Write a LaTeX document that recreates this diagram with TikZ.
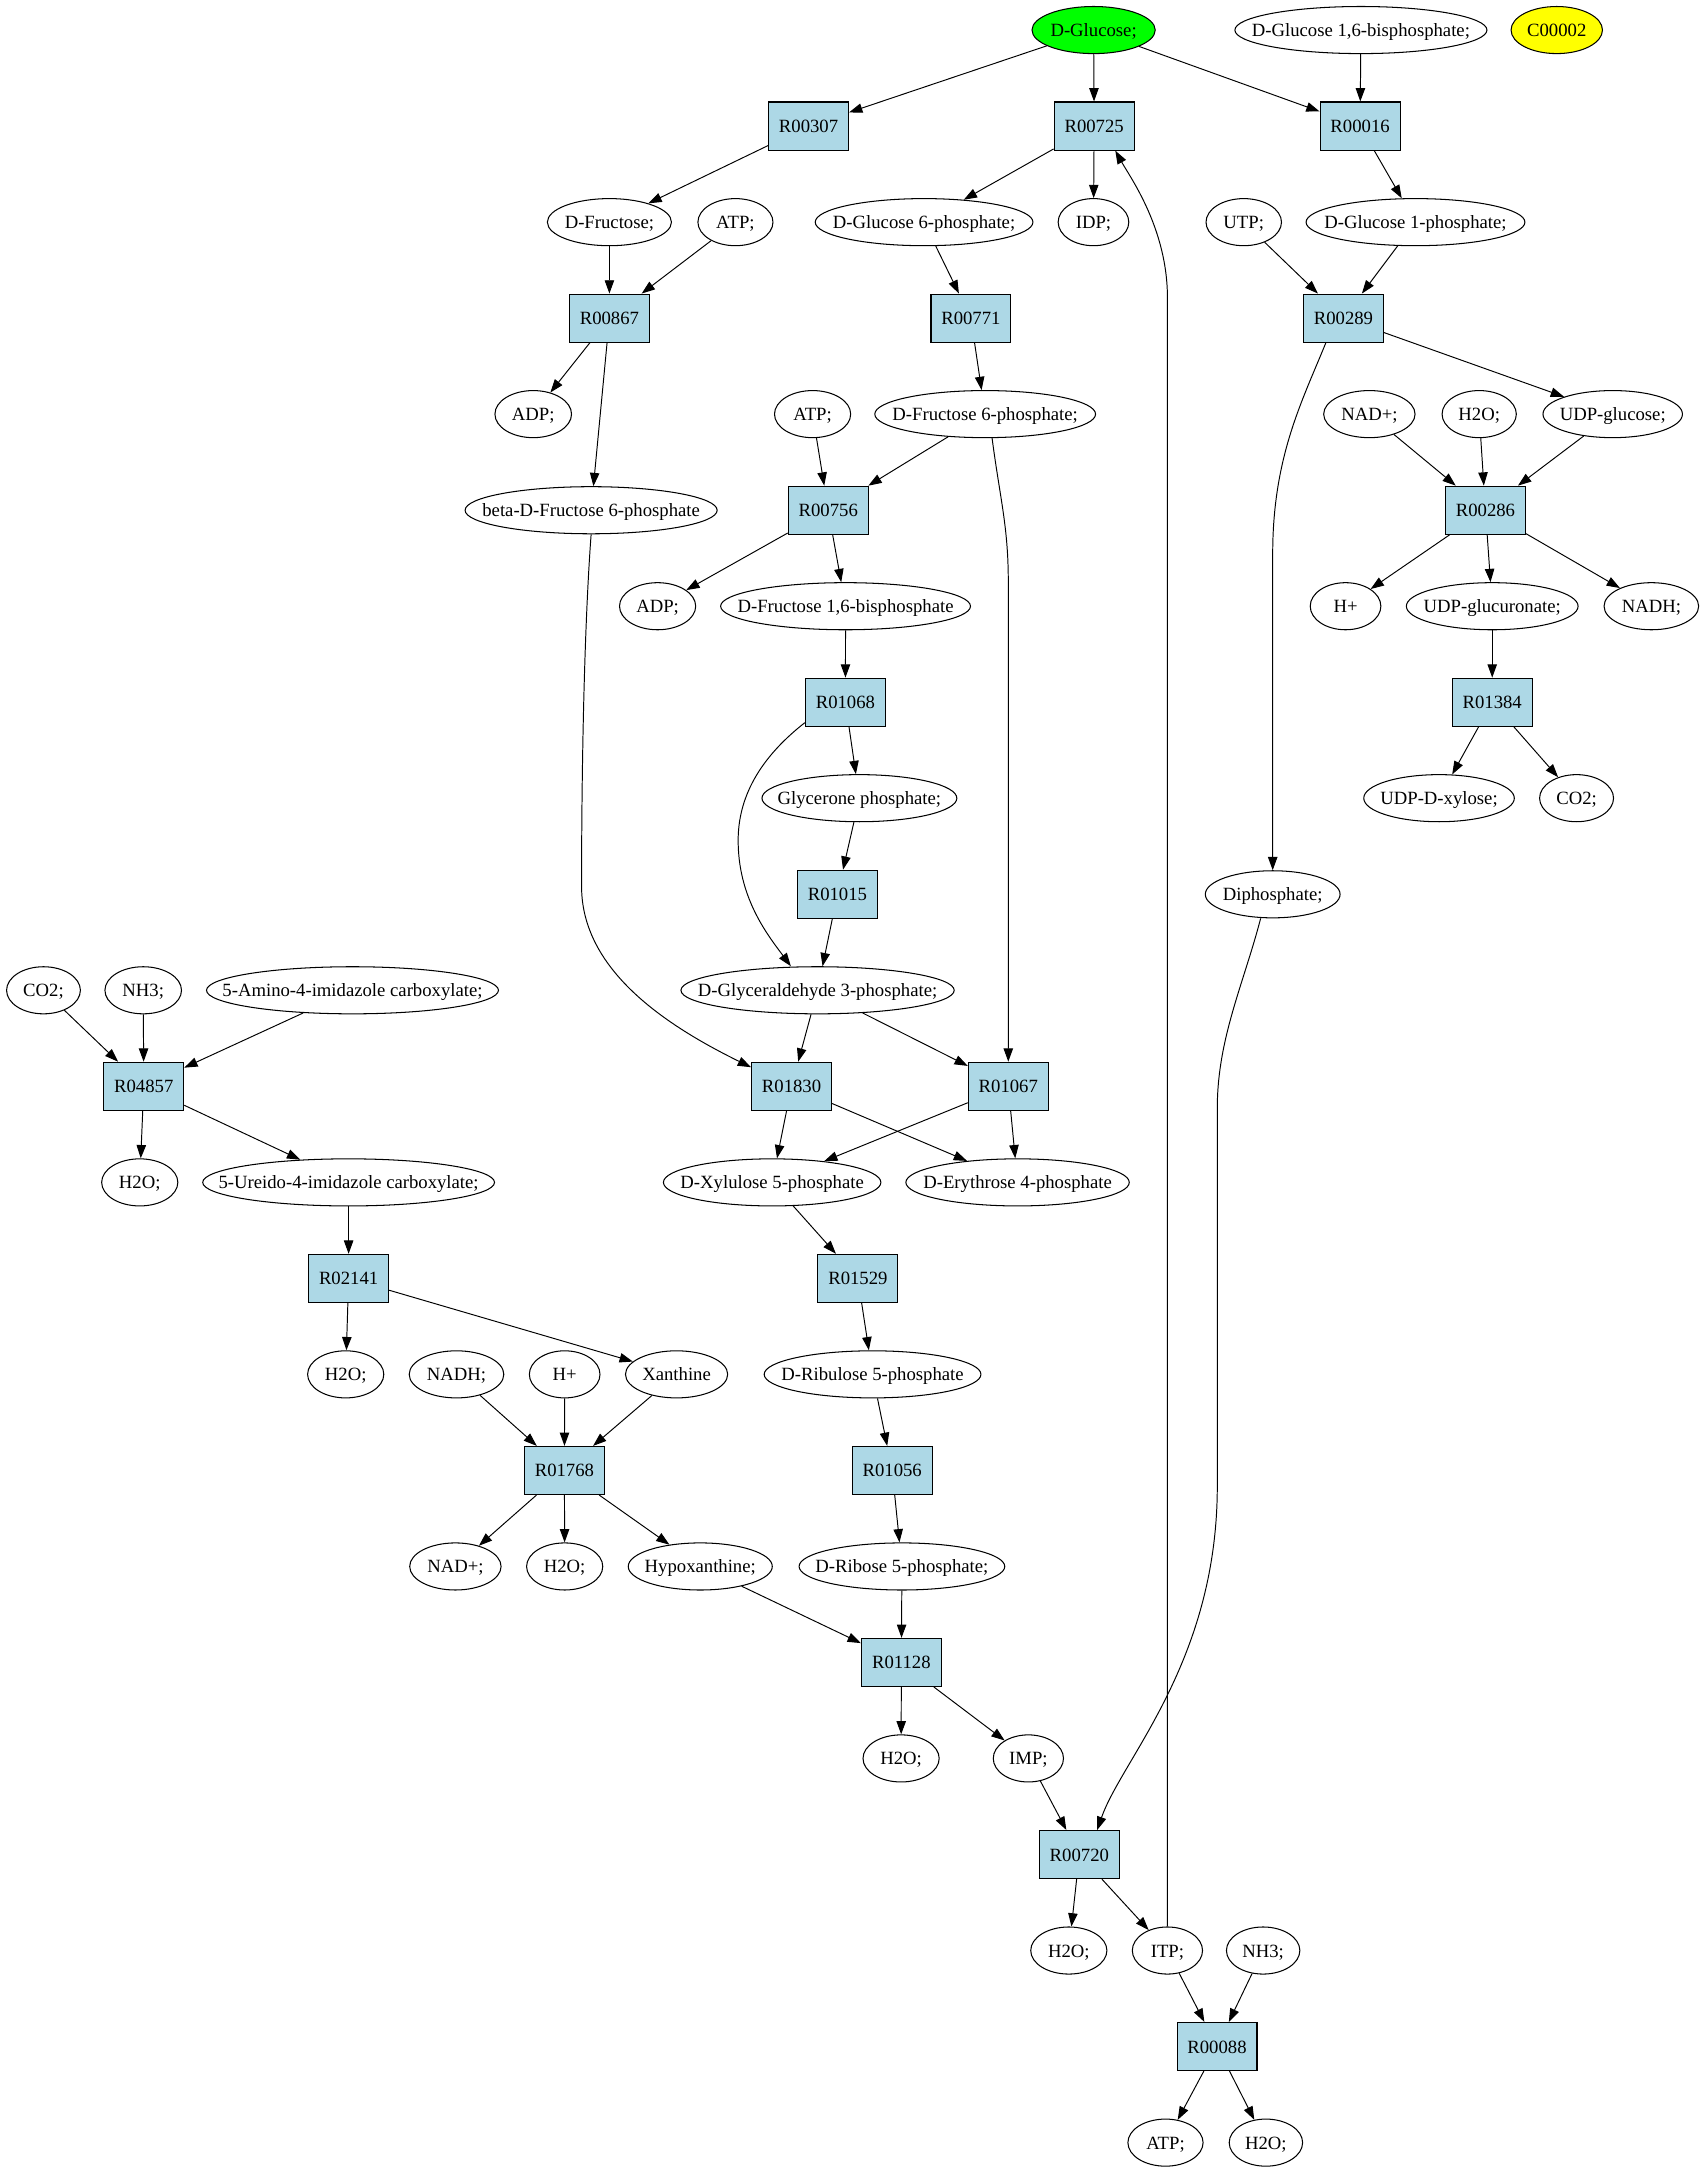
\documentclass[tikz,border=0pt]{standalone}
\usepackage{fontspec}
\setmainfont{Liberation Serif}
\usetikzlibrary{shapes.geometric,arrows.meta}
\definecolor{lb}{RGB}{173,216,230}
\definecolor{gr}{RGB}{0,255,0}
\definecolor{yl}{RGB}{255,255,0}
\newcommand{\nt}[1]{\makebox[0pt]{\rule{0pt}{9.4pt}\smash{#1}}}
\begin{document}
\begin{tikzpicture}[x=1pt,y=-1pt,
  font=\fontsize{13.5}{16}\selectfont,
  rx/.style={rectangle,draw,line width=0.8pt,fill=lb,minimum width=57.7pt,minimum height=34.7pt,inner sep=0pt},
  cp/.style={ellipse,draw,line width=0.75pt,minimum height=34pt,inner sep=0pt,minimum width=#1},
  conn/.style={-{Triangle[length=9.6pt,width=6.8pt]},line width=0.7pt}]
\useasboundingbox (0,0) rectangle (1230.3,1567.5);
% rank 0
\node[cp=89pt,fill=gr] (glc) at (789.6,21.7) {\nt{D-Glucose;}};
\node[cp=182pt] (g16bp) at (982.6,21.7) {\nt{D-Glucose 1,6-bisphosphate;}};
\node[cp=66pt,fill=yl] (c00002) at (1124,21.7) {\nt{C00002}};
% rank 1
\node[rx] (r00307) at (583.8,91.0) {\nt{R00307}};
\node[rx] (r00725) at (790,91.0) {\nt{R00725}};
\node[rx] (r00016) at (982,91.0) {\nt{R00016}};
% rank 2
\node[cp=89.6pt] (fru) at (440,160.4) {\nt{D-Fructose;}};
\node[cp=54.2pt] (atp1) at (531,160.4) {\nt{ATP;}};
\node[cp=157.2pt] (g6p) at (667.2,160.4) {\nt{D-Glucose 6-phosphate;}};
\node[cp=51pt] (idp) at (789.5,160.4) {\nt{IDP;}};
\node[cp=54.5pt] (utp) at (898,160.4) {\nt{UTP;}};
\node[cp=158pt] (g1p) at (1022,160.4) {\nt{D-Glucose 1-phosphate;}};
% rank 3
\node[rx] (r00867) at (440,229.7) {\nt{R00867}};
\node[rx] (r00771) at (701,229.7) {\nt{R00771}};
\node[rx] (r00289) at (970,229.7) {\nt{R00289}};
% rank 4
\node[cp=55.3pt] (adp1) at (385,299.0) {\nt{ADP;}};
\node[cp=55pt] (atp2) at (586.7,299.0) {\nt{ATP;}};
\node[cp=159.4pt] (f6p) at (711.3,299.0) {\nt{D-Fructose 6-phosphate;}};
\node[cp=66pt] (nadp1) at (988.7,299.0) {\nt{NAD+;}};
\node[cp=53.6pt] (h2o1) at (1068,299.0) {\nt{H2O;}};
\node[cp=100.7pt] (udpg) at (1164.4,299.0) {\nt{UDP-glucose;}};
% rank 5
\node[cp=182pt] (bf6p) at (426.8,368.4) {\nt{beta-D-Fructose 6-phosphate}};
\node[rx] (r00756) at (598,368.4) {\nt{R00756}};
\node[rx] (r00286) at (1072.5,368.4) {\nt{R00286}};
% rank 6
\node[cp=55pt] (adp2) at (474.8,437.7) {\nt{ADP;}};
\node[cp=180.4pt] (f16bp) at (610.5,437.7) {\nt{D-Fructose 1,6-bisphosphate}};
\node[cp=51pt] (hp1) at (971.5,437.7) {\nt{H+}};
\node[cp=124pt] (udpgln) at (1077.4,437.7) {\nt{UDP-glucuronate;}};
\node[cp=68.3pt] (nadh1) at (1192.3,437.7) {\nt{NADH;}};
% rank 7
\node[rx] (r01068) at (610.4,507.0) {\nt{R01068}};
\node[rx] (r01384) at (1077.4,507.0) {\nt{R01384}};
% rank 8
\node[cp=140.7pt] (gp) at (620.5,576.3) {\nt{Glycerone phosphate;}};
\node[cp=108.7pt] (udpx) at (1039,576.3) {\nt{UDP-D-xylose;}};
\node[cp=53.4pt] (co2a) at (1138.3,576.3) {\nt{CO2;}};
% rank 9
\node[rx] (r01015) at (604.6,645.7) {\nt{R01015}};
\node[cp=97.3pt] (diph) at (918.9,645.7) {\nt{Diphosphate;}};
% rank 10
\node[cp=53.3pt] (co2b) at (31.4,715.0) {\nt{CO2;}};
\node[cp=55.3pt] (nh3a) at (103.4,715.0) {\nt{NH3;}};
\node[cp=210.8pt] (aica) at (254.5,715.0) {\nt{5-Amino-4-imidazole carboxylate;}};
\node[cp=197.3pt] (g3p) at (590.3,715.0) {\nt{D-Glyceraldehyde 3-phosphate;}};
% rank 11
\node[rx] (r04857) at (103.8,784.3) {\nt{R04857}};
\node[rx] (r01830) at (571.5,784.3) {\nt{R01830}};
\node[rx] (r01067) at (728,784.3) {\nt{R01067}};
% rank 12
\node[cp=55pt] (h2o2) at (100.9,853.7) {\nt{H2O;}};
\node[cp=210.7pt] (uica) at (251.7,853.7) {\nt{5-Ureido-4-imidazole carboxylate;}};
\node[cp=157pt] (xu5p) at (557.5,853.7) {\nt{D-Xylulose 5-phosphate}};
\node[cp=161.3pt] (e4p) at (734.7,853.7) {\nt{D-Erythrose 4-phosphate}};
% rank 13
\node[rx] (r02141) at (251.7,923.0) {\nt{R02141}};
\node[rx] (r01529) at (619.4,923.0) {\nt{R01529}};
% rank 14
\node[cp=55pt] (h2o3) at (249.6,992.3) {\nt{H2O;}};
\node[cp=68.3pt] (nadh2) at (329.6,992.3) {\nt{NADH;}};
\node[cp=51pt] (hp2) at (407.7,992.3) {\nt{H+}};
\node[cp=73.8pt] (xan) at (488.5,992.3) {\nt{Xanthine}};
\node[cp=156.5pt] (ru5p) at (630,992.3) {\nt{D-Ribulose 5-phosphate}};
% rank 15
\node[rx] (r01768) at (407.5,1061.7) {\nt{R01768}};
\node[rx] (r01056) at (644.2,1061.7) {\nt{R01056}};
% rank 16
\node[cp=66pt] (nadp2) at (328.8,1131.0) {\nt{NAD+;}};
\node[cp=55pt] (h2o4) at (407.7,1131.0) {\nt{H2O;}};
\node[cp=104pt] (hyp) at (505.6,1131.0) {\nt{Hypoxanthine;}};
\node[cp=148.5pt] (r5p) at (651.2,1131.0) {\nt{D-Ribose 5-phosphate;}};
% rank 17
\node[rx] (r01128) at (650.8,1200.3) {\nt{R01128}};
% rank 18
\node[cp=55pt] (h2o5) at (650.6,1269.6) {\nt{H2O;}};
\node[cp=50.7pt] (imp) at (742.5,1269.6) {\nt{IMP;}};
% rank 19
\node[rx] (r00720) at (779.3,1339.0) {\nt{R00720}};
% rank 20
\node[cp=55pt] (h2o6) at (771.7,1408.3) {\nt{H2O;}};
\node[cp=50.7pt] (itp) at (842.9,1408.3) {\nt{ITP;}};
\node[cp=53pt] (nh3b) at (912,1408.3) {\nt{NH3;}};
% rank 21
\node[rx] (r00088) at (878.7,1477.6) {\nt{R00088}};
% rank 22
\node[cp=54.3pt] (atp3) at (841.5,1547.0) {\nt{ATP;}};
\node[cp=53pt] (h2o7) at (914,1547.0) {\nt{H2O;}};

% straight edges
\draw[conn] (glc) -- (r00307);
\draw[conn] (glc) -- (r00725);
\draw[conn] (glc) -- (r00016);
\draw[conn] (g16bp) -- (r00016);
\draw[conn] (r00307) -- (fru);
\draw[conn] (fru) -- (r00867);
\draw[conn] (atp1) -- (r00867);
\draw[conn] (r00867) -- (adp1);
\draw[conn] (r00867) -- (bf6p);
\draw[conn] (r00725) -- (g6p);
\draw[conn] (r00725) -- (idp);
\draw[conn] (g6p) -- (r00771);
\draw[conn] (r00771) -- (f6p);
\draw[conn] (atp2) -- (r00756);
\draw[conn] (f6p) -- (r00756);
\draw[conn] (r00756) -- (adp2);
\draw[conn] (r00756) -- (f16bp);
\draw[conn] (f16bp) -- (r01068);
\draw[conn] (r01068) -- (gp);
\draw[conn] (gp) -- (r01015);
\draw[conn] (r01015) -- (g3p);
\draw[conn] (g3p) -- (r01830);
\draw[conn] (g3p) -- (r01067);
\draw[conn] (r01830) -- (xu5p);
\draw[conn] (r01830) -- (e4p);
\draw[conn] (r01067) -- (xu5p);
\draw[conn] (r01067) -- (e4p);
\draw[conn] (xu5p) -- (r01529);
\draw[conn] (r01529) -- (ru5p);
\draw[conn] (ru5p) -- (r01056);
\draw[conn] (r01056) -- (r5p);
\draw[conn] (r5p) -- (r01128);
\draw[conn] (hyp) -- (r01128);
\draw[conn] (r01128) -- (h2o5);
\draw[conn] (r01128) -- (imp);
\draw[conn] (imp) -- (r00720);
\draw[conn] (r00720) -- (h2o6);
\draw[conn] (r00720) -- (itp);
\draw[conn] (itp) -- (r00088);
\draw[conn] (nh3b) -- (r00088);
\draw[conn] (r00088) -- (atp3);
\draw[conn] (r00088) -- (h2o7);
\draw[conn] (r00016) -- (g1p);
\draw[conn] (utp) -- (r00289);
\draw[conn] (g1p) -- (r00289);
\draw[conn] (r00289) -- (udpg);
\draw[conn] (nadp1) -- (r00286);
\draw[conn] (h2o1) -- (r00286);
\draw[conn] (udpg) -- (r00286);
\draw[conn] (r00286) -- (hp1);
\draw[conn] (r00286) -- (udpgln);
\draw[conn] (r00286) -- (nadh1);
\draw[conn] (udpgln) -- (r01384);
\draw[conn] (r01384) -- (udpx);
\draw[conn] (r01384) -- (co2a);
\draw[conn] (co2b) -- (r04857);
\draw[conn] (nh3a) -- (r04857);
\draw[conn] (aica) -- (r04857);
\draw[conn] (r04857) -- (h2o2);
\draw[conn] (r04857) -- (uica);
\draw[conn] (uica) -- (r02141);
\draw[conn] (r02141) -- (h2o3);
\draw[conn] (r02141) -- (xan);
\draw[conn] (nadh2) -- (r01768);
\draw[conn] (hp2) -- (r01768);
\draw[conn] (xan) -- (r01768);
\draw[conn] (r01768) -- (nadp2);
\draw[conn] (r01768) -- (h2o4);
\draw[conn] (r01768) -- (hyp);

% curved edges
\draw[conn] (itp.north) -- (842.9,215) .. controls (842.9,165) and (816,128) .. ([xshift=-14pt]r00725.south east);
\draw[conn] ([xshift=-8.7pt]diph.south) .. controls (898,710) and (878.9,750) .. (878.9,800) -- (878.9,1073) .. controls (878.9,1200) and (810,1270) .. ([xshift=12.9pt]r00720.north);
\draw[conn] ([xshift=-12.7pt]r00289.south) .. controls (940,290) and (918.9,330) .. (918.9,400) -- (diph.north);
\draw[conn] ([xshift=5pt]f6p.south) .. controls (722,360) and (728,380) .. (728,420) -- (r01067.north);
\draw[conn] (bf6p.south) .. controls (422,450) and (419.9,550) .. (419.9,640) .. controls (419.9,700) and (480,740) .. ([yshift=-4pt]r01830.north west);
\draw[conn] ([yshift=3pt]r01068.south west) .. controls (545,550) and (532,580) .. (533,610) .. controls (534,650) and (555,676) .. ([xshift=-19.3pt]g3p.north);
\end{tikzpicture}
\end{document}
